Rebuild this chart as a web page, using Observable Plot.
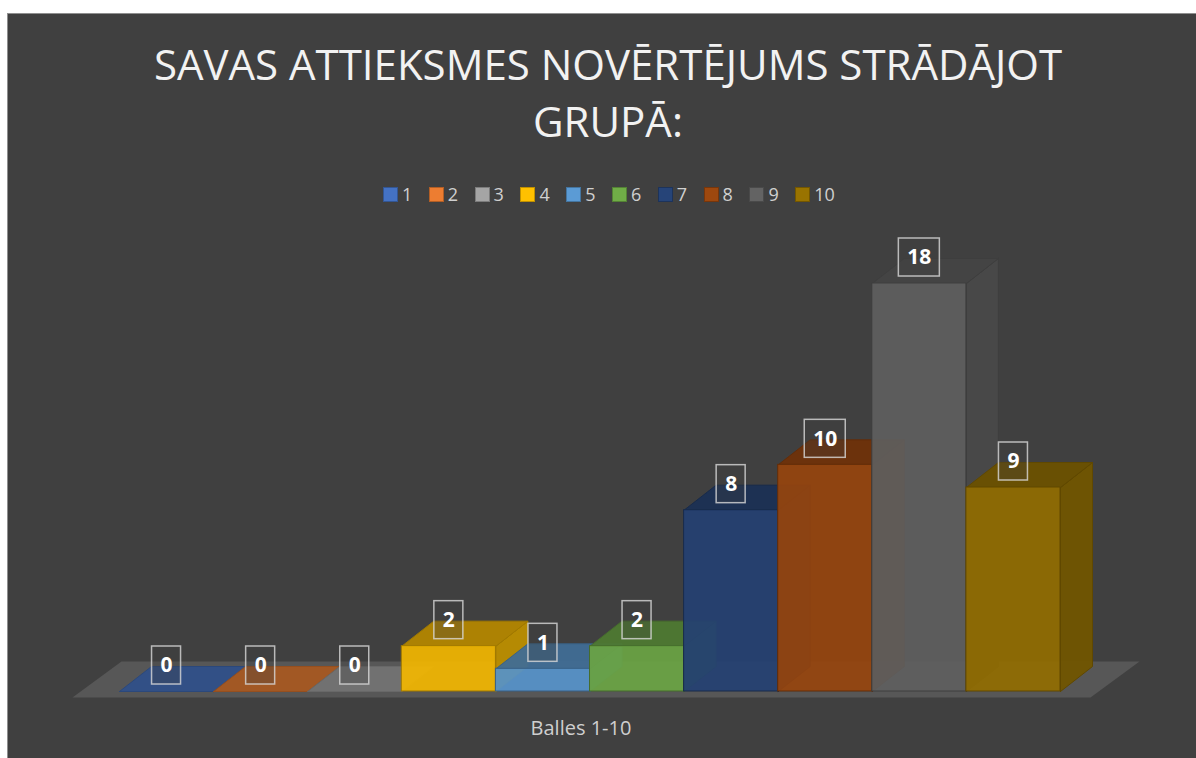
<!DOCTYPE html>
<html>
<head>
<meta charset="utf-8">
<script src="https://cdn.jsdelivr.net/npm/d3@7"></script>
<script src="https://cdn.jsdelivr.net/npm/@observablehq/plot@0.6"></script>
<style>
  html, body { margin: 0; padding: 0; background: #ffffff; }
  body { width: 1196px; height: 758px; overflow: hidden; position: relative; font-family: "Open Sans", sans-serif; }
  #panel { position: absolute; left: 7px; top: 13px; width: 1189px; height: 745px; background: #404040;
           border-left: 1px solid #8f8f8f; border-top: 1px solid #8f8f8f; box-sizing: border-box; }
  #title { position: absolute; left: 10px; width: 1196px; top: 35px; text-align: center; color: #f2f2f2;
           font-size: 42px; line-height: 57px; font-weight: 400; }
  #legend { position: absolute; left: 383px; top: 186px; height: 16px; display: flex; align-items: center; }
  .item { display: flex; align-items: center; margin-right: 16.5px; color: #d0d0d0; font-size: 18px; line-height: 16px; }
  .sw { width: 13px; height: 13px; margin-right: 4px; border: 1.5px solid; }
  #plot { position: absolute; left: 8px; top: 220px; }
  #xlabel { position: absolute; left: 431px; width: 300px; top: 718px; text-align: center; color: #cfcfcf;
            font-size: 20px; line-height: 20px; }
</style>
</head>
<body>
<div id="panel"></div>
<div id="title"></div>
<div id="legend"></div>
<div id="plot"></div>
<div id="xlabel"></div>
<script>
// ---- data ----
const titleLines = ["SAVAS ATTIEKSMES NOVĒRTĒJUMS STRĀDĀJOT", "GRUPĀ:"];
const axisLabel = "Balles 1-10";
const categories = ["1", "2", "3", "4", "5", "6", "7", "8", "9", "10"];
const values = [0, 0, 0, 2, 1, 2, 8, 10, 18, 9];
const colors = ["#4472C4", "#ED7D31", "#A5A5A5", "#FFC000", "#5B9BD5", "#70AD47", "#264478", "#9E480E", "#636363", "#997300"];

// ---- header & legend ----
document.getElementById("title").innerHTML = titleLines.join("<br>");
document.getElementById("xlabel").textContent = axisLabel;
const legend = document.getElementById("legend");
categories.forEach((c, i) => {
  const it = document.createElement("div");
  it.className = "item";
  const sw = document.createElement("div");
  sw.className = "sw";
  sw.style.background = colors[i];
  sw.style.borderColor = d3.color(colors[i]).darker(0.8).formatHex();
  it.appendChild(sw);
  const t = document.createElement("span");
  t.textContent = c;
  it.appendChild(t);
  legend.appendChild(it);
});

// ---- geometry (pixels -> scale units) ----
const W = 1188, H = 500;
const mL = 111, mR = 136, mT = 63, mB = 29;
const ux = (W - mL - mR) / categories.length;   // px per x unit
const uy = (H - mT - mB) / 18;                  // px per y unit
const bdx = 32 / ux, bdy = 25 / uy;             // bar depth
const fdx = 49 / ux, fdy = 36 / uy;             // floor depth
const fy0 = -6 / uy, fx0 = 0.5 - 47 / ux, fx1 = 0.5 + 971 / ux;

const floor = [
  {x: fx0, y: fy0}, {x: fx1, y: fy0}, {x: fx1 + fdx, y: fy0 + fdy}, {x: fx0 + fdx, y: fy0 + fdy}, {x: fx0, y: fy0}
];

const marks = [
  Plot.line(floor, {x: "x", y: "y", fill: "#575757", stroke: "none", curve: "linear"})
];

values.forEach((v, k) => {
  const i = k + 1, x1 = i - 0.5, x2 = i + 0.5;
  const c = d3.color(colors[k]);
  const edge = c.darker(1.3).formatHex();
  const side = [
    {x: x2, y: 0}, {x: x2 + bdx, y: bdy}, {x: x2 + bdx, y: v + bdy}, {x: x2, y: v}, {x: x2, y: 0}
  ];
  const top = [
    {x: x1, y: v}, {x: x2, y: v}, {x: x2 + bdx, y: v + bdy}, {x: x1 + bdx, y: v + bdy}, {x: x1, y: v}
  ];
  marks.push(
    Plot.line(side, {x: "x", y: "y", fill: c.darker(0.85).formatHex(), stroke: edge, strokeWidth: 1, fillOpacity: 0.95, curve: "linear"}),
    Plot.line(top, {x: "x", y: "y", fill: c.darker(1.0).formatHex(), stroke: edge, strokeWidth: 1, fillOpacity: 0.95, curve: "linear"}),
    Plot.rect([{x1, x2, y1: 0, y2: v}], {x1: "x1", x2: "x2", y1: "y1", y2: "y2", fill: c.darker(0.15).formatHex(), fillOpacity: 0.92, stroke: edge, strokeWidth: 1})
  );
});

// data labels
const lab = values.map((v, k) => {
  const t = String(v);
  const w = (t.length > 1 ? 41 : 29) / ux;
  const h = 38 / uy;
  const cy = v + 26 / uy;
  return {x: k + 1, cy, x1: k + 1 - w / 2, x2: k + 1 + w / 2, y1: cy - h / 2, y2: cy + h / 2, t};
});
marks.push(
  Plot.rect(lab, {x1: "x1", x2: "x2", y1: "y1", y2: "y2", fill: "#404040", fillOpacity: 0.3, stroke: "#d9d9d9", strokeOpacity: 0.8, strokeWidth: 1.5}),
  Plot.text(lab, {x: "x", y: "cy", text: "t", fill: "#ffffff", fontSize: 21, fontWeight: "bold", fontFamily: "Open Sans"})
);

const chart = Plot.plot({
  width: W, height: H,
  marginLeft: mL, marginRight: mR, marginTop: mT, marginBottom: mB,
  x: {domain: [0.5, 10.5], axis: null},
  y: {domain: [0, 18], axis: null},
  style: {background: "transparent", overflow: "visible"},
  marks
});
document.getElementById("plot").appendChild(chart);
</script>
</body>
</html>
